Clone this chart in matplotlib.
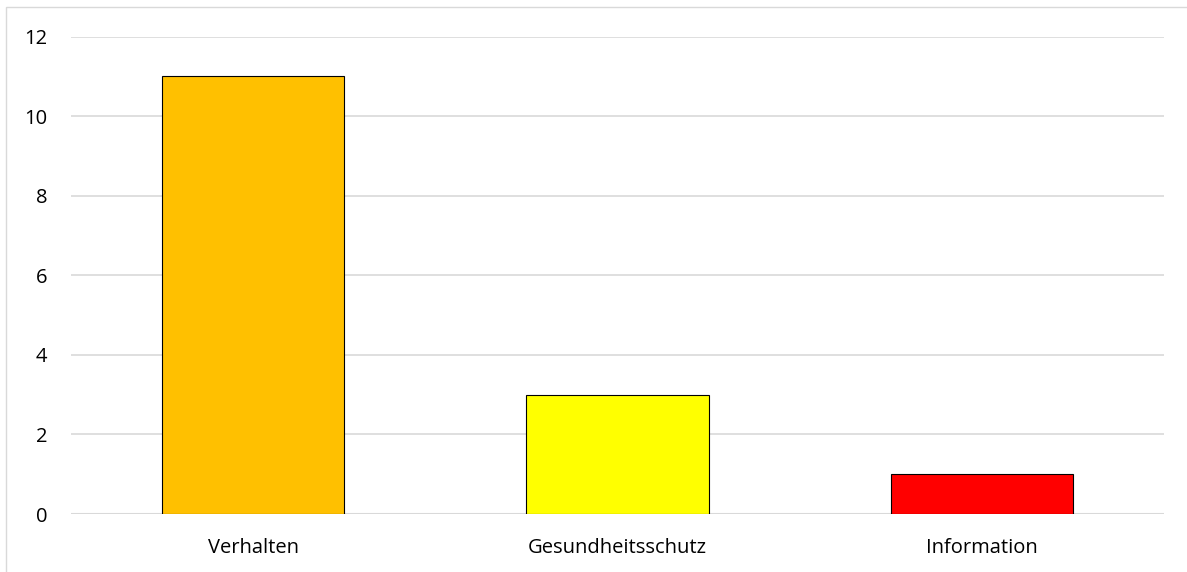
import matplotlib.pyplot as plt
from matplotlib.patches import Rectangle

categories = ["Verhalten", "Gesundheitsschutz", "Information"]
values = [11, 3, 1]
colors = ["#FFC000", "#FFFF00", "#FF0000"]
yticks = [0, 2, 4, 6, 8, 10, 12]

plt.rcParams['font.family'] = ['Open Sans', 'DejaVu Sans']

W, H = 1187, 572
fig = plt.figure(figsize=(W / 100, H / 100), dpi=100)
ax = fig.add_axes([71 / W, 1 - 514 / H, (1164 - 71) / W, (514 - 36.5) / H])

x = range(len(categories))
ax.bar(x, values, width=0.5, color=colors, edgecolor="black", linewidth=0.8, zorder=3)

ax.set_xlim(-0.5, len(categories) - 0.5)
ax.set_ylim(0, 12)
ax.set_yticks(yticks)
ax.set_xticks(list(x))
ax.set_xticklabels(categories)
ax.grid(axis="y", color="#D9D9D9", linewidth=1.2, zorder=0)
ax.axhline(0, color="#D9D9D9", linewidth=1.5, zorder=1)
for s in ax.spines.values():
    s.set_visible(False)
ax.tick_params(length=0, labelsize=14.5, colors="black")
ax.tick_params(axis="y", pad=17)
ax.tick_params(axis="x", pad=17)

# chart area border
fig.patches.append(Rectangle((6 / W, -0.1), 1.2, 1 - 7 / H + 0.1,
                             transform=fig.transFigure, fill=False,
                             edgecolor="#D9D9D9", linewidth=1))

fig.savefig("out.png", dpi=100)
